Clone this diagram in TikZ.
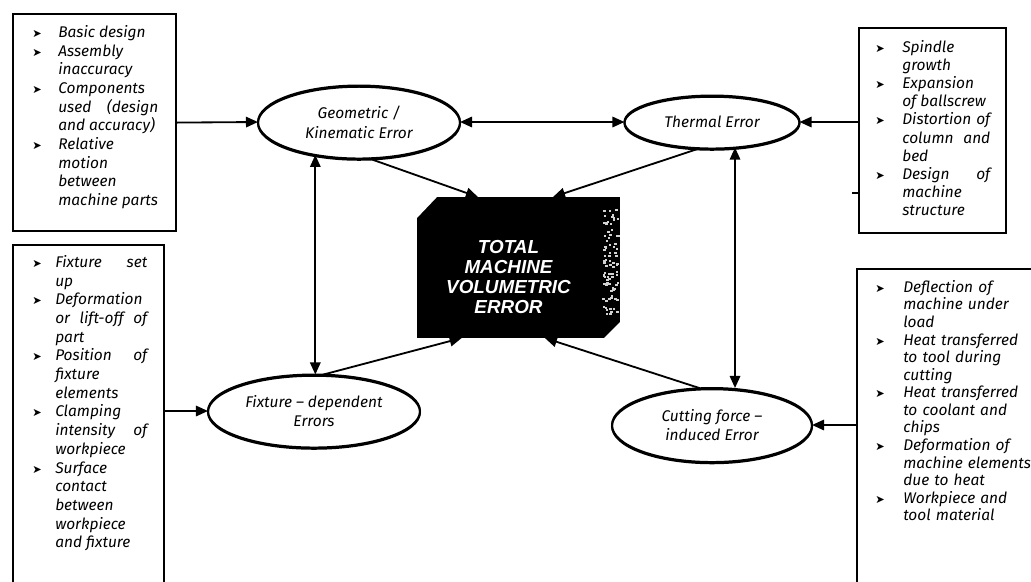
\documentclass[tikz,border=0pt]{standalone}
\usepackage{fontspec}
\setmainfont{Fira Sans}
\newfontfamily\blockfont{Liberation Sans}
\newfontfamily\dingfont{DejaVu Sans}
\usetikzlibrary{arrows.meta,positioning,calc,shapes.geometric}
\hyphenpenalty=10000
\exhyphenpenalty=10000

\newlength{\bind}
\newcommand{\causeitem}[1]{\noindent\hangindent=\bind\hangafter=1%
  \makebox[\bind][l]{\dingfont\fontsize{8}{8}\selectfont\char"27A4}#1\par}

\begin{document}
\begin{tikzpicture}[x=0.025cm, y=-0.025cm,
    box/.style={draw, line width=1.5pt, inner sep=0pt, anchor=north west},
    causes/.style={anchor=north west, inner sep=0pt, text width=#1, align=justify,
      font=\fontsize{11}{13.3}\selectfont\itshape},
    err/.style={ellipse, draw, line width=1.4pt, inner sep=0pt, outer sep=0pt,
      preaction={draw, line width=1.4pt, transform canvas={yshift=-0.9pt}},
      align=center, font=\fontsize{11}{14}\selectfont\itshape},
    arr/.style={line width=1.3pt, -{Triangle[length=3mm,width=2.6mm]}},
    dbl/.style={line width=1.3pt, {Triangle[length=3mm,width=2.6mm]}-{Triangle[length=3mm,width=2.6mm]}}]
  \useasboundingbox (0,0) rectangle (1031,581);
  \clip (0,0) rectangle (1031,581);
  \fill[white] (0,0) rectangle (1031,581);

  % cause boxes
  \node[box, minimum width=4.075cm, minimum height=5.425cm] (gkbox) at (12,13) {};
  \node[box, minimum width=3.675cm, minimum height=5.125cm] (thbox) at (858,27) {};
  \node[box, minimum width=3.775cm, minimum height=9cm] (fxbox) at (12,244) {};
  \node[box, minimum width=5.5cm, minimum height=9cm] (cfbox) at (856,268) {};

  \node[causes=3.15cm] (gklist) at (32,25) {\setlength{\bind}{0.65cm}%
    \causeitem{Basic design}
    \causeitem{Assembly\linebreak inaccuracy}
    \causeitem{Components\linebreak used (design\linebreak and accuracy)}
    \causeitem{Relative\linebreak motion\linebreak between\linebreak machine parts}};
  \node[causes=2.875cm, font=\fontsize{11}{12.9}\selectfont\itshape] (thlist) at (875,40) {\setlength{\bind}{0.675cm}%
    \causeitem{Spindle\linebreak growth}
    \causeitem{Expansion\linebreak of ballscrew}
    \causeitem{Distortion of\linebreak column and\linebreak bed}
    \causeitem{Design of\linebreak machine\linebreak structure}};
  \node[causes=2.875cm] (fxlist) at (32,255) {\setlength{\bind}{0.575cm}%
    \causeitem{Fixture set\linebreak up}
    \causeitem{Deformation\linebreak or lift-off of\linebreak part}
    \causeitem{Position of\linebreak fixture\linebreak elements}
    \causeitem{Clamping\linebreak intensity of\linebreak workpiece}
    \causeitem{Surface\linebreak contact\linebreak between\linebreak workpiece\linebreak and fixture}};
  \node[causes=4cm, align=left, font=\fontsize{11}{12.5}\selectfont\itshape] (cflist) at (875,280) {\setlength{\bind}{0.7cm}%
    \causeitem{Deflection of\newline machine under\newline load}
    \causeitem{Heat transferred\newline to tool during\newline cutting}
    \causeitem{Heat transferred\newline to coolant and\newline chips}
    \causeitem{Deformation of\newline machine elements\newline due to heat}
    \causeitem{Workpiece and\newline tool material}};

  % error sources
  \node[err, minimum width=5.05cm, minimum height=1.825cm] (geo) at (359,122) {Geometric /\\Kinematic Error};
  \node[err, minimum width=4.375cm, minimum height=1.325cm] (therm) at (712,122) {Thermal Error};
  \node[err, minimum width=5.3cm, minimum height=1.825cm] (fix) at (314,411) {Fixture -- dependent\\Errors};
  \node[err, minimum width=5cm, minimum height=1.85cm] (cut) at (712,425) {Cutting force --\\induced Error};

  % total error block
  \node[fill=black, inner sep=0pt, outer sep=0pt, minimum width=5.075cm, minimum height=3.525cm] (blk) at (518.5,267.5) {};
  \fill[white] (blk.north west) -- ++(20,0) -- ++(-20,21) -- cycle;
  \fill[white] (blk.south east) -- ++(0,-16) -- ++(-16,16) -- cycle;
  \pgfmathsetseed{3}
  \foreach \k in {1,...,90}
    \fill[gray!35] ($(blk.north east)+(-3-15*rnd, 8+110*rnd)$) rectangle +(2.5,2);
  \node[font=\blockfont\bfseries\itshape\fontsize{13.4}{14.2}\selectfont, text=white, align=center]
    (total) at ([xshift=-0.25cm, yshift=-0.24cm]blk.center) {TOTAL\\MACHINE\\VOLUMETRIC\\ERROR};

  % connectors
  \draw[arr] (gkbox.east) -- (geo.west);
  \draw[arr] (thbox.west |- therm.east) -- (therm.east);
  \draw[arr] (fxbox.east |- fix.west) -- (fix.west);
  \draw[arr] (cfbox.west |- cut.east) -- (cut.east);
  \draw[line width=1pt] ([yshift=-1.56cm]thbox.west) -- ++(-6,0);
  \draw[dbl] (geo) -- (therm);
  \draw[dbl] (geo.217) -- (geo.217 |- fix.north);
  \draw[dbl] (therm.312) -- (therm.312 |- cut.north);
  \draw[arr] (geo.285) -- ($(blk.north west)!0.3!(blk.north east)$);
  \draw[arr] (therm.245) -- ($(blk.north west)!0.67!(blk.north east)$);
  \draw[arr] (fix.76) -- ($(blk.south west)!0.22!(blk.south east)$);
  \draw[arr] (cut.108) -- ($(blk.south west)!0.63!(blk.south east)$);
\end{tikzpicture}
\end{document}
